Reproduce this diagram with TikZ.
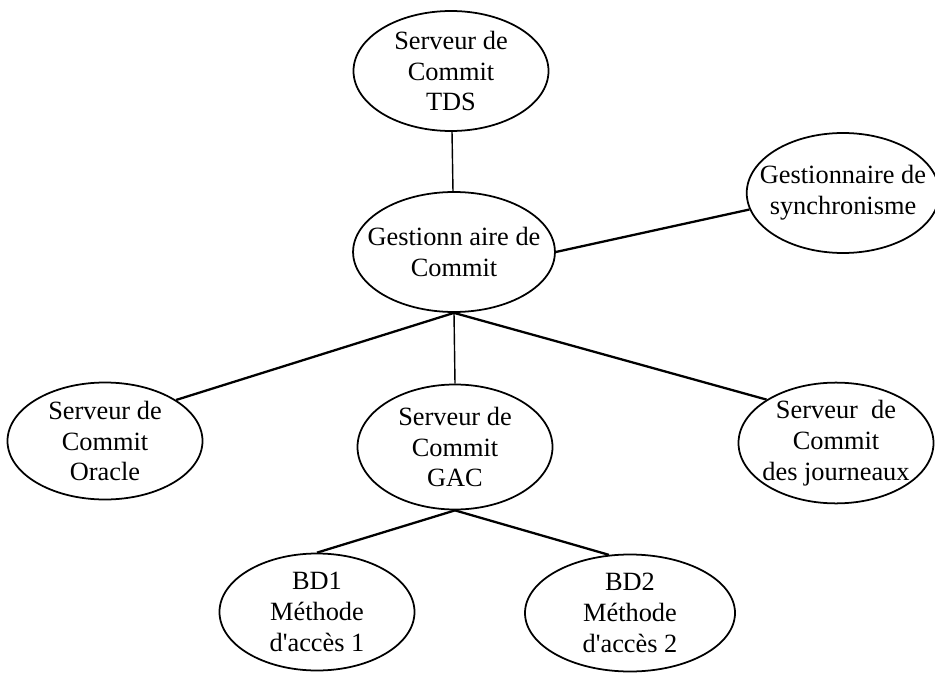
\documentclass[tikz,border=0pt]{standalone}
\usepackage{fontspec}
\setmainfont{Liberation Serif}
\usepackage{tikz}
\usetikzlibrary{shapes,positioning}
\tikzset{serv/.style={draw,ellipse,line width=1pt,inner xsep=-0.3cm,inner ysep=0pt,align=center,
	minimum width=3.9cm,minimum height=2.4cm,font=\fontsize{15}{17.5}\selectfont}}
\tikzset{lien/.style={line width=1.3pt},lienfin/.style={line width=0.8pt}}

\begin{document}
\begin{tikzpicture}
	\useasboundingbox (0,0) rectangle (18.7,13.44);
	
	\node[serv] (TDS) at (9.02,12.02) {Serveur de\\Commit\\TDS};
	\node[serv,minimum width=3.96cm] (GC) at (9.08,8.40) {Gestionn aire de\\Commit};
	\node[serv,minimum width=3.72cm] (GS) at (16.86,9.58) {Gestionnaire de\\synchronisme};
	
	\node[serv,minimum height=2.34cm] (SO) at (2.10,4.62) {Serveur de\\Commit\\Oracle};
	\node[serv,minimum height=2.5cm] (SG) at (9.10,4.50) {Serveur de\\Commit\\GAC};
	\node[serv,minimum height=2.34cm] (SJ) at (16.72,4.58) {Serveur\ \ de\\Commit\\des journeaux};
	
	\node[serv,minimum height=2.34cm] (BD1) at (6.34,1.20) {BD1\\Méthode\\d\textquotesingle accès 1};
	\node[serv,minimum height=2.34cm,minimum width=4.2cm] (BD2) at (12.60,1.18) {BD2\\Méthode\\d\textquotesingle accès 2};
	
	\draw[lienfin] (TDS) -- (GC);
	\draw[lien] (GC.east) -- (GS.190);
	
	\draw[lien] (GC.south) -- (SO.30); % gauche
	\draw[lienfin] (GC.south) -- (SG.north);
	\draw[lien] (GC.south) -- (SJ.148); % droite
	
	\draw[lien] (SG.south) -- (BD1.north);
	\draw[lien] (SG.south) -- (BD2.110);
\end{tikzpicture}
\end{document}
